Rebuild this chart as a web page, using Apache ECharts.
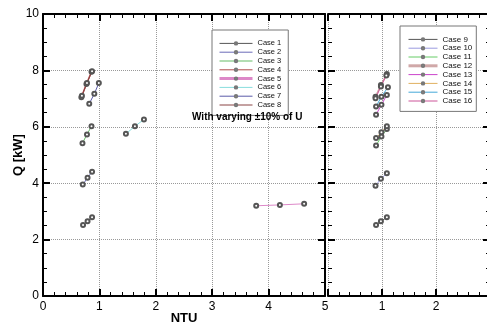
<!DOCTYPE html>
<html><head><meta charset="utf-8">
<script src="https://cdn.jsdelivr.net/npm/echarts@6/dist/echarts.min.js"></script>
<style>html,body{margin:0;padding:0;background:#fff}#c{width:487px;height:324px}</style>
</head><body><div id="c"></div>
<script>
// Left panel: Cases 1-8 (NTU, Q[kW])
const leftNames = ['Case 1','Case 2','Case 3','Case 4','Case 5','Case 6','Case 7','Case 8'];
const case1 = [[0.71,2.52],[0.79,2.65],[0.87,2.79]];
const case2 = [[0.705,3.95],[0.79,4.19],[0.87,4.41]];
const case3 = [[0.70,5.42],[0.78,5.73],[0.86,6.02]];
const case4 = [[0.68,7.05],[0.77,7.52],[0.86,7.95]];
const case5 = [[3.78,3.20],[4.20,3.23],[4.63,3.27]];
const case6 = [[1.47,5.75],[1.63,6.02],[1.79,6.26]];
const case7 = [[0.82,6.82],[0.91,7.17],[0.99,7.55]];
const case8 = [[0.69,7.10],[0.78,7.55],[0.87,7.97]];
// Right panel: Cases 9-16
const rightNames = ['Case 9','Case 10','Case 11','Case 12','Case 13','Case 14','Case 15','Case 16'];
const case9  = [[0.89,2.52],[0.98,2.65],[1.09,2.79]];
const case10 = [[0.88,3.91],[0.98,4.16],[1.09,4.35]];
const case11 = [[0.89,5.34],[0.99,5.66],[1.09,5.92]];
const case12 = [[0.88,7.07],[0.98,7.48],[1.09,7.87]];
const case13 = [[0.89,6.43],[0.99,6.78],[1.09,7.13]];
const case14 = [[0.89,5.60],[0.99,5.81],[1.09,6.02]];
const case15 = [[0.89,6.72],[0.99,7.07],[1.11,7.40]];
const case16 = [[0.88,7.01],[0.98,7.43],[1.08,7.82]];
const leftData = [case1,case2,case3,case4,case5,case6,case7,case8];
const rightData = [case9,case10,case11,case12,case13,case14,case15,case16];
const leftColors = ['#555555','#6a6ab8','#66bb66','#b04a4a','#dd88c8','#88dddd','#5a5aa8','#8a4444'];
const leftWidths = [1,1,1,1.5,1,1,1,1];
const leftLegendWidths = [1,1,1,1,3,1,1,1];
const rightColors = ['#555555','#9a9ae0','#66cc66','#d0a8a8','#cc44cc','#e0b060','#44a8d8','#cc5599'];
const rightWidths = [1,1,1,1.5,1,1,1,1];
const rightLegendWidths = [1,1,1,3,1,1,1,1];

const FONT = 'Liberation Sans';
function mkX(gi, pos, max, labels, hideZero) {
  return {
    type:'value', gridIndex:gi, position:pos, min:0, max:max, interval:1,
    axisLine:{show:true, onZero:false, lineStyle:{color:'#000', width:2}},
    axisTick:{show:true, inside:true, length:7, lineStyle:{color:'#000', width:2}},
    minorTick:{show:true, splitNumber:5, length:4, lineStyle:{color:'#000', width:1}},
    splitLine:{show: pos==='bottom', lineStyle:{color:'#999', type:'dotted', width:1}},
    axisLabel:{show:labels, color:'#000', fontSize:12, fontFamily:FONT, margin:5,
      formatter: v => (hideZero && v===0) ? '' : String(v)},
  };
}
function mkY(gi, pos, labels, lineShow) {
  return {
    type:'value', gridIndex:gi, position:pos, min:0, max:10, interval:2,
    axisLine:{show:lineShow, onZero:false, lineStyle:{color:'#000', width:2}},
    axisTick:{show:true, inside:true, length:7, lineStyle:{color:'#000', width:2}},
    minorTick:{show:true, splitNumber:4, length:4, lineStyle:{color:'#000', width:1}},
    splitLine:{show: pos==='left', lineStyle:{color:'#999', type:'dotted', width:1}},
    axisLabel:{show:labels, color:'#000', fontSize:12, fontFamily:FONT, margin:4},
  };
}
const xAxes = [mkX(0,'bottom',5,true,false), mkX(0,'top',5,false,false), mkX(1,'bottom',3,true,true), mkX(1,'top',3,false,false)];
xAxes[0].name = 'NTU'; xAxes[0].nameLocation='middle'; xAxes[0].nameGap=16; xAxes[0].nameMoveOverlap=false;
xAxes[0].nameTextStyle = {fontSize:13, fontWeight:'bold', fontFamily:FONT, color:'#000'};
const yAxes = [mkY(0,'left',true,true), mkY(0,'right',false,true), mkY(1,'left',false,false), mkY(1,'right',false,true)];
yAxes[0].name = 'Q [kW]'; yAxes[0].nameLocation='middle'; yAxes[0].nameGap=18; yAxes[0].nameMoveOverlap=false;
yAxes[0].nameTextStyle = {fontSize:13, fontWeight:'bold', fontFamily:FONT, color:'#000'};

const series = [];
leftNames.forEach((n,i) => series.push({
  name:n, type:'line', xAxisIndex:0, yAxisIndex:0, data:leftData[i],
  symbol:'emptyCircle', symbolSize:4, itemStyle:{color:'#555', borderWidth:0.7},
  lineStyle:{color:leftColors[i], width:leftWidths[i]}, animation:false
}));
rightNames.forEach((n,i) => series.push({
  name:n, type:'line', xAxisIndex:2, yAxisIndex:2, data:rightData[i],
  symbol:'emptyCircle', symbolSize:4, itemStyle:{color:'#555', borderWidth:0.7},
  lineStyle:{color:rightColors[i], width:rightWidths[i]}, animation:false
}));

function mkLegend(names, colors, widths, left, top, fs, iw, pad, gapText, weight) {
  return {
    data:names.map((n,i) => ({name:n, itemStyle:{color:'#777', borderWidth:0}, lineStyle:{color:colors[i], width:widths[i]}})),
    orient:'vertical', left:left, top:top, itemWidth:iw, itemHeight:3, itemGap:0, itemTextGap:gapText,
    padding:pad, borderColor:'#777', borderWidth:1, backgroundColor:'#fff',
    textStyle:{fontSize:fs, fontFamily:FONT, fontWeight:weight, color:'#111', lineHeight:8.8, height:8.8},
    selectedMode:false, z:5
  };
}

const chart = echarts.init(document.getElementById('c'), null, {renderer:'canvas'});
chart.setOption({
  animation:false,
  grid:[{left:43, top:14, width:282, height:282, outerBoundsMode:'none', containLabel:false},
        {left:328, top:14, width:162, height:282, outerBoundsMode:'none', containLabel:false}],
  xAxis:xAxes, yAxis:yAxes, series:series,
  legend:[mkLegend(leftNames, leftColors, leftLegendWidths, 212, 30, 7.5, 33, [9,7,6,6], 6, 'normal'),
          mkLegend(rightNames, rightColors, rightLegendWidths, 400, 26, 8, 29, [9,4,6,7], 9, 'normal')],
  graphic:[{type:'text', left:192, top:112, z:10, style:{text:'With varying \u00b110% of U', font:'bold 10px "Liberation Sans"', fill:'#000'}}]
});
</script></body></html>
